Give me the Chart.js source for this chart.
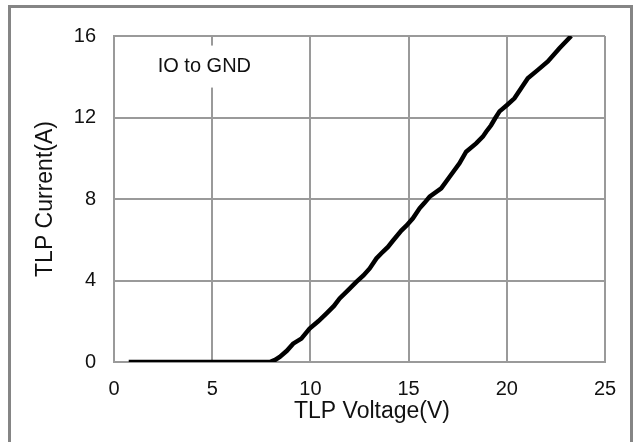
<!DOCTYPE html>
<html>
<head>
<meta charset="utf-8">
<script src="https://cdn.jsdelivr.net/npm/chart.js@4.4.1/dist/chart.umd.min.js"></script>
<style>
    html, body { margin: 0; padding: 0; background: #fff; overflow: hidden; }
    #wrap { position: relative; width: 634px; height: 442px; }
    #frame {
        position: absolute; left: 8px; top: 5px;
        width: 625px; height: 460px;
        box-sizing: border-box; border: 3px solid #858585;
        pointer-events: none;
    }
    canvas { position: absolute; left: 0; top: 0; }
</style>
</head>
<body>
<div id="wrap">
    <canvas id="tlpChart" width="634" height="442"></canvas>
    <div id="frame"></div>
</div>
<script>
// --- Data ---
const voltage = [0.75, 2, 4, 6, 7.5, 7.93, 8.2, 8.44, 8.8, 9.12, 9.54, 9.96, 10.4, 10.81, 11.2, 11.49,
    11.91, 12.34, 12.7, 13.02, 13.36, 13.69, 13.95, 14.2, 14.63, 14.9, 15.22, 15.56, 15.8, 16.07,
    16.66, 17.09, 17.59, 17.93, 18.44, 18.78, 18.95, 19.2, 19.4, 19.63, 20.0, 20.39, 20.73, 21.07,
    21.6, 22.09, 22.68, 23.28];
const current = [0, 0, 0, 0, 0, 0, 0.1, 0.25, 0.55, 0.9, 1.15, 1.64, 2.0, 2.38, 2.75, 3.12,
    3.52, 3.93, 4.25, 4.59, 5.08, 5.41, 5.65, 5.95, 6.45, 6.7, 7.05, 7.54, 7.8, 8.11,
    8.52, 9.09, 9.75, 10.32, 10.73, 11.06, 11.3, 11.62, 11.95, 12.3, 12.6, 12.94, 13.43, 13.93,
    14.35, 14.75, 15.4, 16.0];
const xTicks = [0, 5, 10, 15, 20, 25];
const yTicks = [0, 4, 8, 12, 16];
const xTitle = 'TLP Voltage(V)';
const yTitle = 'TLP Current(A)';
const noteText = 'IO to GND';
const notePos = { x: 4.6, y: 14.5 };

const FONT = '"Liberation Sans", Arial, sans-serif';
const GRID = '#9a9a9a';

// --- Plugin: judul sumbu & catatan ---
const labelsPlugin = {
    id: 'labelsPlugin',
    afterDraw(chart) {
        const ctx = chart.ctx;
        const xs = chart.scales.x, ys = chart.scales.y;
        ctx.save();
        ctx.fillStyle = '#111';
        ctx.textAlign = 'center';
        ctx.textBaseline = 'middle';
        ctx.font = '23px ' + FONT;
        ctx.fillText(xTitle, 372, 412);

        ctx.translate(46, (chart.chartArea.top + chart.chartArea.bottom) / 2);
        ctx.rotate(-Math.PI / 2);
        ctx.fillText(yTitle, 0, 0);
        ctx.restore();

        // kotak catatan
        const nx = xs.getPixelForValue(notePos.x);
        const ny = ys.getPixelForValue(notePos.y);
        ctx.save();
        ctx.fillStyle = '#fff';
        ctx.fillRect(nx - 55, ny - 21, 110, 42);
        ctx.fillStyle = '#111';
        ctx.font = '20px ' + FONT;
        ctx.textAlign = 'center';
        ctx.textBaseline = 'middle';
        ctx.fillText(noteText, nx, ny);
        ctx.restore();
    }
};

new Chart(document.getElementById('tlpChart'), {
    type: 'line',
    data: {
        datasets: [{
            data: voltage.map((v, i) => ({ x: v, y: current[i] })),
            borderColor: '#000',
            borderWidth: 4.5,
            pointRadius: 0,
            tension: 0,
            fill: false
        }]
    },
    options: {
        responsive: false,
        animation: false,
        layout: { padding: { top: 36, right: 29, left: 0, bottom: 0 } },
        plugins: { legend: { display: false }, tooltip: { enabled: false } },
        scales: {
            x: {
                type: 'linear',
                min: 0, max: 25,
                afterBuildTicks: s => { s.ticks = xTicks.map(v => ({ value: v })); },
                afterFit: s => { s.height = 80; },
                grid: { color: GRID, lineWidth: 2, drawTicks: false },
                border: { color: GRID, width: 2 },
                ticks: { color: '#111', font: { family: FONT, size: 20 }, padding: 15, maxRotation: 0 }
            },
            y: {
                type: 'linear',
                min: 0, max: 16,
                afterBuildTicks: s => { s.ticks = yTicks.map(v => ({ value: v })); },
                afterFit: s => { s.width = 114; },
                grid: { color: GRID, lineWidth: 2, drawTicks: false },
                border: { color: GRID, width: 2 },
                ticks: { color: '#111', font: { family: FONT, size: 20 }, padding: 18 }
            }
        }
    },
    plugins: [labelsPlugin]
});
</script>
</body>
</html>
